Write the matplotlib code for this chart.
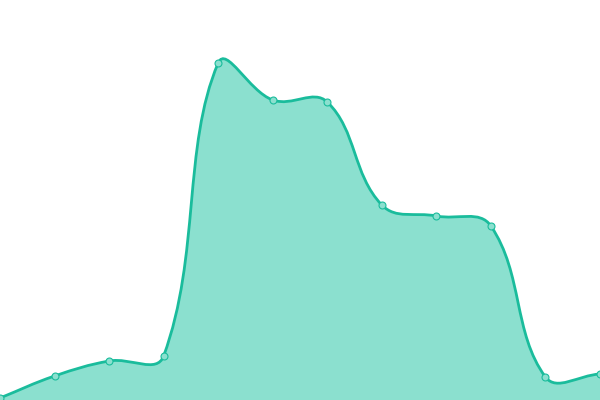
import numpy as np
import matplotlib
matplotlib.use('Agg')
import matplotlib.pyplot as plt
from matplotlib.path import Path
from matplotlib.patches import PathPatch

# values (height above bottom, chart units 0-400)
labels = list(range(12))
values = [2, 24, 39, 44, 337, 300, 298, 195, 184, 174, 23, 26]

line_color = '#1abc9c'
fill_color = '#8be0cf'

W, H = 600, 400
xs = np.linspace(0, W, len(values))
ys = np.array(values, dtype=float)


def spline_controls(x, y, t=0.4):
    # Chart.js style spline control points
    pts = np.column_stack([x, y])
    n = len(pts)
    c1 = []
    c2 = []
    for i in range(n):
        p0 = pts[max(i - 1, 0)]
        p1 = pts[i]
        p2 = pts[min(i + 1, n - 1)]
        d01 = np.hypot(*(p1 - p0))
        d12 = np.hypot(*(p2 - p1))
        tot = d01 + d12
        s01 = d01 / tot if tot else 0
        s12 = d12 / tot if tot else 0
        c1.append(p1 - t * s01 * (p2 - p0))
        c2.append(p1 + t * s12 * (p2 - p0))
    return pts, np.array(c1), np.array(c2)


pts, before, after = spline_controls(xs, ys)
before[:, 0] = np.clip(before[:, 0], 0, W)
after[:, 0] = np.clip(after[:, 0], 0, W)
before[:, 1] = np.clip(before[:, 1], 0, H)
after[:, 1] = np.clip(after[:, 1], 0, H)

verts = [tuple(pts[0])]
codes = [Path.MOVETO]
for i in range(1, len(pts)):
    verts += [tuple(after[i - 1]), tuple(before[i]), tuple(pts[i])]
    codes += [Path.CURVE4] * 3

fill_verts = verts + [(W, 0), (0, 0), tuple(pts[0])]
fill_codes = codes + [Path.LINETO, Path.LINETO, Path.CLOSEPOLY]

fig = plt.figure(figsize=(6, 4), dpi=100)
ax = fig.add_axes([0, 0, 1, 1])
ax.add_patch(PathPatch(Path(fill_verts, fill_codes), facecolor=fill_color,
                       edgecolor='none', zorder=1))
ax.add_patch(PathPatch(Path(verts, codes), facecolor='none',
                       edgecolor=line_color, linewidth=2.0, zorder=2))
ax.plot(xs, ys, 'o', markersize=5, markerfacecolor=fill_color,
        markeredgecolor=line_color, markeredgewidth=0.8, zorder=3,
        clip_on=False)

ax.set_xlim(0, W)
ax.set_ylim(0, H)
ax.axis('off')

fig.savefig('out.png', dpi=100)
